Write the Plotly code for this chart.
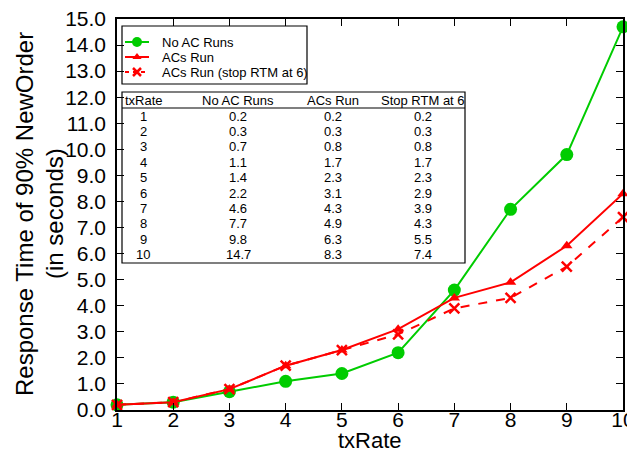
import plotly.graph_objects as go

tx_rate = [1, 2, 3, 4, 5, 6, 7, 8, 9, 10]
no_ac_runs = [0.2, 0.3, 0.7, 1.1, 1.4, 2.2, 4.6, 7.7, 9.8, 14.7]
acs_run = [0.2, 0.3, 0.8, 1.7, 2.3, 3.1, 4.3, 4.9, 6.3, 8.3]
stop_rtm6 = [0.2, 0.3, 0.8, 1.7, 2.3, 2.9, 3.9, 4.3, 5.5, 7.4]
table_headers = ["txRate", "No AC Runs", "ACs Run", "Stop RTM at 6"]
series_names = ["No AC Runs", "ACs Run", "ACs Run (stop RTM at 6)"]
y_ticks = [i * 1.0 for i in range(16)]
x_title = "txRate"
y_title_lines = ["Response Time of 90% NewOrder", "(in seconds)"]

PAGE_W, PAGE_H = 635, 461
OFF = 8  # default page body margin
W, H = PAGE_W - OFF, PAGE_H - OFF
# plot area in page pixel coordinates
L, R, T, B = 117, 623, 19, 410
pw, ph = R - L, B - T

def px(x):
    return (x - L) / pw

def py(y):
    return (B - y) / ph

FONT = "Liberation Sans, Arial, sans-serif"
GREEN = "#00cc00"
RED = "#ff0000"

styles = [
    dict(line=dict(color=GREEN, width=2), marker=dict(symbol="circle", size=13, color=GREEN)),
    dict(line=dict(color=RED, width=2), marker=dict(symbol="triangle-up", size=10, color=RED)),
    dict(line=dict(color=RED, width=2, dash="dash"),
         marker=dict(symbol="x-thin", size=10, color=RED, line=dict(color=RED, width=2.5))),
]
legend_styles = [
    dict(line=dict(color=GREEN, width=2), marker=dict(symbol="circle", size=10, color=GREEN)),
    dict(line=dict(color=RED, width=2), marker=dict(symbol="triangle-up", size=8, color=RED)),
    dict(line=dict(color=RED, width=2, dash="4px,4px"),
         marker=dict(symbol="x-thin", size=8, color=RED, line=dict(color=RED, width=2.5))),
]

fig = go.Figure()
for ys, name, st in zip([no_ac_runs, acs_run, stop_rtm6], series_names, styles):
    fig.add_trace(go.Scatter(x=tx_rate, y=ys, name=name, mode="lines+markers",
                             line=st["line"], marker=st["marker"], cliponaxis=False,
                             showlegend=False))

# Manual legend (pixel-coordinate overlay axes)
leg_rows = [42, 57, 72]
for yrow, name, st in zip(leg_rows, series_names, legend_styles):
    fig.add_trace(go.Scatter(x=[125, 149], y=[yrow, yrow], mode="lines", line=st["line"],
                             xaxis="x2", yaxis="y2", showlegend=False, hoverinfo="skip"))
    fig.add_trace(go.Scatter(x=[137], y=[yrow], mode="markers", marker=st["marker"],
                             xaxis="x2", yaxis="y2", showlegend=False, hoverinfo="skip",
                             cliponaxis=False))

annotations = []
for yrow, name in zip(leg_rows, series_names):
    annotations.append(dict(x=px(160), y=py(yrow), xref="paper", yref="paper", text=name,
                            showarrow=False, xanchor="left", yanchor="middle",
                            font=dict(family=FONT, size=13, color="black")))

# Table overlay
tx0, tx1 = 122, 465
ty0, ty1 = 92, 263
shapes = [
    dict(type="rect", xref="paper", yref="paper", x0=px(122), x1=px(307), y0=py(84), y1=py(26),
         line=dict(color="black", width=1.2), fillcolor="white", layer="below"),
    dict(type="rect", xref="paper", yref="paper", x0=px(tx0), x1=px(tx1), y0=py(ty1), y1=py(ty0),
         line=dict(color="black", width=1.2), fillcolor="white", layer="below"),
    dict(type="line", xref="paper", yref="paper", x0=px(tx0), x1=px(tx1), y0=py(108), y1=py(108),
         line=dict(color="black", width=1.2), layer="below"),
]
col_x = [143, 238, 333, 423]
hdr_y = 100
row_y0, row_dy = 116, 15.4
for j, htxt in enumerate(table_headers):
    if j == 0:
        annotations.append(dict(x=px(123), y=py(hdr_y), xref="paper", yref="paper", text=htxt,
                                showarrow=False, xanchor="left", yanchor="middle",
                                font=dict(family=FONT, size=13, color="black")))
    else:
        annotations.append(dict(x=px(col_x[j]), y=py(hdr_y), xref="paper", yref="paper", text=htxt,
                                showarrow=False, xanchor="center", yanchor="middle",
                                font=dict(family=FONT, size=13, color="black")))
cols = [tx_rate, no_ac_runs, acs_run, stop_rtm6]
for i in range(len(tx_rate)):
    for j, col in enumerate(cols):
        v = col[i]
        txt = str(v) if j == 0 else f"{v:.1f}"
        annotations.append(dict(x=px(col_x[j]), y=py(row_y0 + i * row_dy), xref="paper", yref="paper",
                                text=txt, showarrow=False, xanchor="center", yanchor="middle",
                                font=dict(family=FONT, size=13, color="black")))

# Axis titles
annotations.append(dict(x=px(370), y=py(440), xref="paper", yref="paper", text=x_title,
                        showarrow=False, xanchor="center", yanchor="middle",
                        font=dict(family=FONT, size=22, color="black")))
for xc, line in zip([24, 54], y_title_lines):
    annotations.append(dict(x=px(xc), y=py(214), xref="paper", yref="paper", text=line,
                            showarrow=False, xanchor="center", yanchor="middle", textangle=-90,
                            font=dict(family=FONT, size=24, color="black")))

fig.update_layout(
    width=W, height=H,
    margin=dict(l=L - OFF, r=PAGE_W - R, t=T - OFF, b=PAGE_H - B, autoexpand=False),
    paper_bgcolor="white", plot_bgcolor="white",
    font=dict(family=FONT, color="black"),
    showlegend=False,
    shapes=shapes,
    annotations=annotations,
    xaxis=dict(range=[1, 10], tickvals=tx_rate, ticks="inside", ticklen=7, tickcolor="black",
               showline=True, linecolor="black", linewidth=1.5, mirror="ticks", showgrid=False,
               zeroline=False, tickfont=dict(size=21, family=FONT), automargin=False,
               ticklabelstandoff=-10, ticklabeloverflow="allow"),
    yaxis=dict(range=[0, 15], tickvals=y_ticks, tickformat=".1f", ticks="inside", ticklen=7,
               tickcolor="black", showline=True, linecolor="black", linewidth=1.5, mirror="ticks",
               showgrid=False, zeroline=False, tickfont=dict(size=21, family=FONT),
               ticklabelstandoff=5, automargin=False, ticklabeloverflow="allow"),
    xaxis2=dict(range=[L, R], overlaying="x", visible=False, domain=[0, 1]),
    yaxis2=dict(range=[B, T], overlaying="y", visible=False, domain=[0, 1]),
)

fig.write_html("out.html")
